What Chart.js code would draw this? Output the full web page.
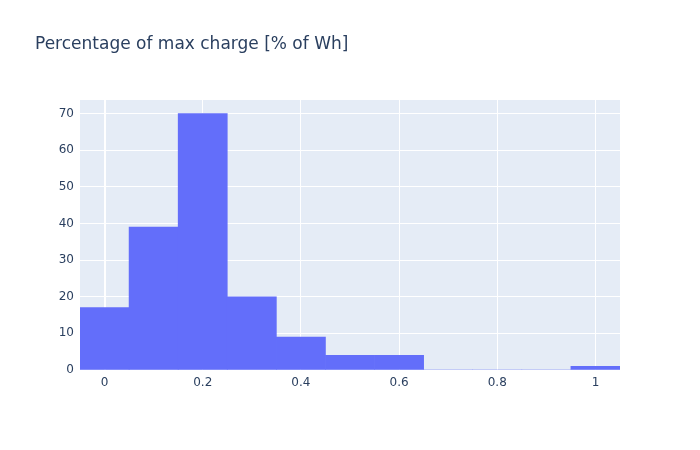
<!DOCTYPE html>
<html>
<head>
<meta charset="utf-8">
<script src="https://cdn.jsdelivr.net/npm/chart.js@4/dist/chart.umd.min.js"></script>
<style>
  html, body { margin: 0; padding: 0; background: #fff; }
  #wrap { width: 700px; height: 450px; position: relative; }
</style>
</head>
<body>
<div id="wrap"><canvas id="c" width="700" height="450"></canvas></div>
<script>
// Histogram bin centers (bin width 0.1) and counts
const binCenters = [0, 0.1, 0.2, 0.3, 0.4, 0.5, 0.6, 0.7, 0.8, 0.9, 1.0];
const counts     = [17, 39, 70, 20, 9, 4, 4, 0, 0, 0, 1];
const titleText = 'Percentage of max charge [% of Wh]';
const xTickStep = 0.2;
const yTickStep = 10;

const points = binCenters.map((x, i) => ({ x: x, y: counts[i] }));

const FONT = '"DejaVu Sans", verdana, arial, sans-serif';
const TXT = '#2a3f5f';

const bgPlugin = {
  id: 'plotBg',
  beforeDraw(chart) {
    const { ctx, chartArea: a } = chart;
    ctx.save();
    ctx.fillStyle = '#E5ECF6';
    ctx.fillRect(a.left, a.top, a.right - a.left, a.bottom - a.top);
    ctx.restore();
  },
  afterDraw(chart) {
    const ctx = chart.ctx;
    ctx.save();
    ctx.font = '17px ' + FONT;
    ctx.fillStyle = TXT;
    ctx.textBaseline = 'middle';
    ctx.textAlign = 'left';
    ctx.fillText(titleText, 35, 45);
    ctx.restore();
  }
};

new Chart(document.getElementById('c'), {
  type: 'bar',
  data: {
    datasets: [{
      data: points,
      backgroundColor: '#636EFA',
      borderWidth: 0,
      barPercentage: 1.0,
      categoryPercentage: 1.0
    }]
  },
  options: {
    responsive: false,
    animation: false,
    layout: { padding: { top: 100, right: 80, left: 0, bottom: 0 } },
    plugins: { legend: { display: false }, tooltip: { enabled: false }, title: { display: false } },
    scales: {
      x: {
        type: 'linear',
        min: -0.05,
        max: 1.05,
        offset: false,
        border: { display: false },
        grid: {
          offset: false,
          color: '#ffffff',
          lineWidth: (c) => (c.tick && Math.abs(c.tick.value) < 1e-9 ? 2 : 1),
          drawTicks: false
        },
        ticks: {
          stepSize: xTickStep,
          includeBounds: false,
          padding: 6,
          maxRotation: 0,
          color: TXT,
          font: { family: FONT, size: 12 },
          callback: (v) => String(Number(v.toFixed(1)))
        },
        afterFit: (s) => { s.height = 80; }
      },
      y: {
        min: 0,
        max: 73.68,
        border: { display: false },
        grid: { color: '#ffffff', lineWidth: 1, drawTicks: false },
        ticks: {
          stepSize: yTickStep,
          includeBounds: false,
          padding: 6,
          color: TXT,
          font: { family: FONT, size: 12 },
          callback: (v) => String(Math.round(v))
        },
        afterFit: (s) => { s.width = 80; }
      }
    }
  },
  plugins: [bgPlugin]
});
</script>
</body>
</html>
